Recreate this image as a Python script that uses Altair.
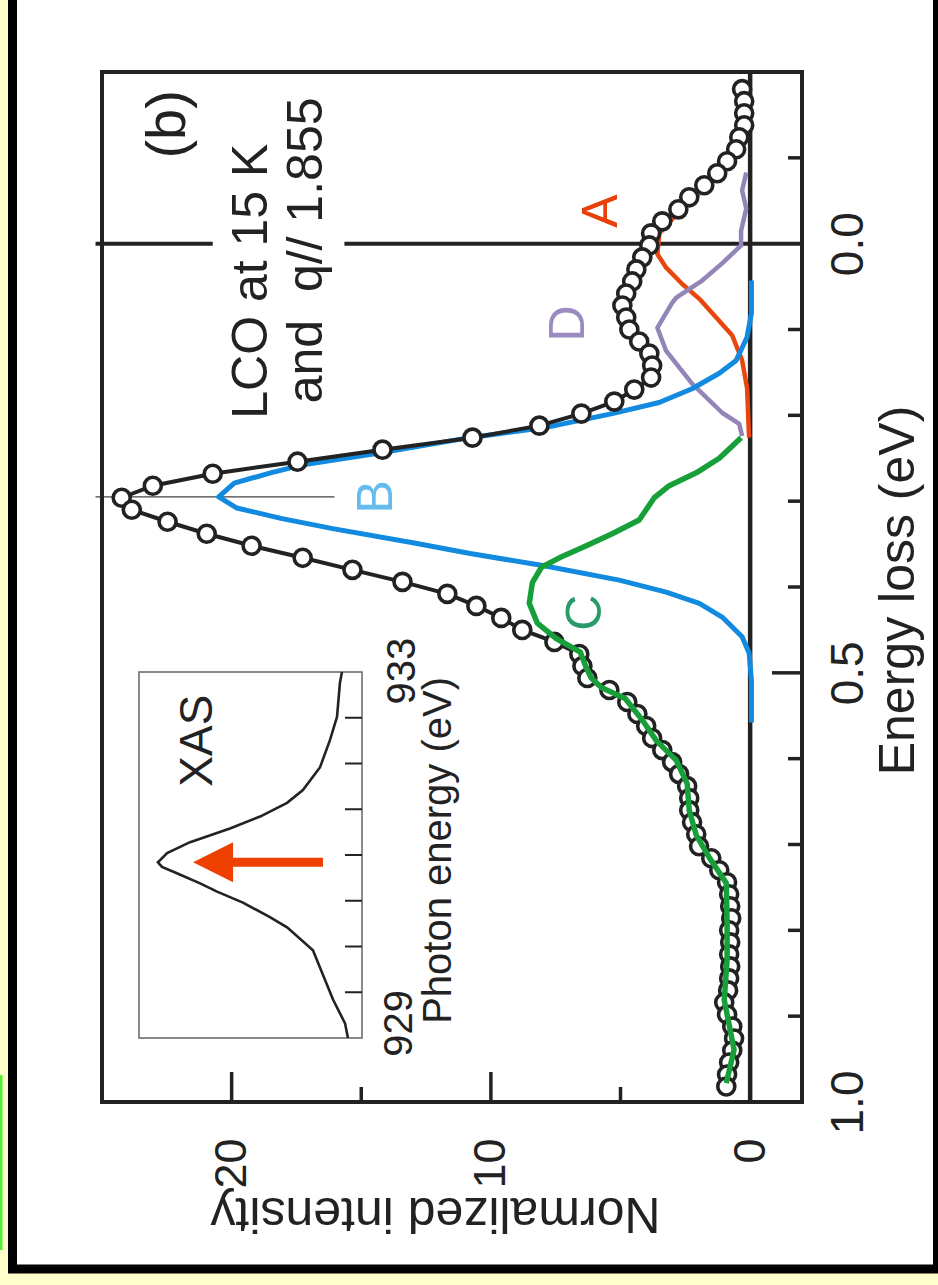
import altair as alt
import pandas as pd

FONT = "Liberation Sans"
INK = "#222222"

# ---- measured RIXS spectrum: energy loss (eV) vs normalized intensity ----
loss = [-0.180, -0.166, -0.152, -0.138, -0.124, -0.110, -0.096, -0.082, -0.068, -0.054,
        -0.040, -0.026, -0.012, 0.002, 0.016, 0.030, 0.044, 0.058, 0.072, 0.086,
        0.100, 0.114, 0.128, 0.142, 0.156, 0.170, 0.184, 0.198, 0.212, 0.226,
        0.240, 0.254, 0.268, 0.282, 0.296, 0.310, 0.324, 0.338, 0.352, 0.366,
        0.380, 0.394, 0.408, 0.422, 0.436, 0.450, 0.464, 0.478, 0.492, 0.506,
        0.520, 0.534, 0.548, 0.562, 0.576, 0.590, 0.604, 0.618, 0.632, 0.646,
        0.660, 0.674, 0.688, 0.702, 0.716, 0.730, 0.744, 0.758, 0.772, 0.786,
        0.800, 0.814, 0.828, 0.842, 0.856, 0.870, 0.884, 0.898, 0.912, 0.926,
        0.940, 0.954, 0.968, 0.982]
counts = [0.31, 0.23, 0.23, 0.23, 0.42, 0.54, 0.89, 1.27, 1.77, 2.35,
          2.77, 3.39, 3.82, 3.89, 4.16, 4.39, 4.55, 4.78, 4.93, 4.78,
          4.66, 4.28, 3.89, 3.78, 3.82, 4.47, 5.24, 6.51, 8.13, 10.71,
          14.18, 17.46, 20.73, 23.04, 24.24, 23.85, 22.47, 20.96, 19.23, 17.26,
          15.34, 13.41, 11.68, 10.56, 9.60, 8.79, 7.55, 6.59, 6.47, 6.28,
          5.43, 4.74, 4.35, 4.01, 3.78, 3.39, 3.01, 2.74, 2.43, 2.35,
          2.35, 2.24, 2.08, 1.97, 1.50, 1.19, 0.89, 0.81, 0.77, 0.73,
          0.81, 0.77, 0.81, 0.77, 0.81, 0.85, 1.00, 0.89, 0.69, 0.62,
          0.69, 0.81, 0.89, 0.92]

# ---- fitted components ----
a_loss = [-0.058, -0.029, -0.012, 0.012, 0.028, 0.047, 0.064, 0.086, 0.107, 0.136, 0.168, 0.226]
a_int = [1.97, 3.00, 3.50, 3.58, 3.24, 2.62, 1.97, 1.31, 0.69, 0.31, 0.12, 0.04]

d_loss = [-0.083, -0.062, -0.041, -0.015, 0.002, 0.023, 0.043, 0.063, 0.069, 0.098,
          0.125, 0.163, 0.197, 0.210, 0.224]
d_int = [0.15, 0.31, 0.15, 0.35, 0.35, 1.08, 1.85, 2.85, 3.01, 3.58,
         3.24, 2.24, 1.08, 0.42, 0.31]

b_loss = [0.043, 0.081, 0.109, 0.136, 0.151, 0.169, 0.185, 0.198, 0.214, 0.226,
          0.244, 0.258, 0.267, 0.279, 0.295, 0.308, 0.320, 0.332, 0.349, 0.361,
          0.375, 0.392, 0.406, 0.419, 0.435, 0.458, 0.477, 0.509, 0.558]
b_int = [-0.05, -0.05, 0.12, 0.54, 1.19, 2.24, 3.51, 5.32, 7.86, 10.83,
         14.3, 17.3, 18.5, 19.9, 20.5, 19.8, 18.1, 16.1, 12.9, 10.8,
         8.0, 5.05, 3.24, 1.96, 1.08, 0.31, 0.04, -0.05, -0.05]

c_loss = [0.226, 0.250, 0.267, 0.282, 0.296, 0.322, 0.338, 0.352, 0.366, 0.377,
          0.395, 0.419, 0.442, 0.460, 0.476, 0.494, 0.506, 0.517, 0.530, 0.555,
          0.579, 0.602, 0.629, 0.660, 0.689, 0.715, 0.745, 0.792, 0.835, 0.881,
          0.939, 0.978]
c_int = [0.35, 1.19, 2.08, 3.12, 3.70, 4.28, 5.32, 6.32, 7.36, 8.05,
         8.40, 8.52, 8.21, 7.48, 6.55, 6.32, 6.13, 5.74, 4.82, 4.16,
         3.62, 2.85, 2.43, 2.35, 2.08, 1.58, 0.92, 0.89, 0.89, 1.00,
         0.62, 0.92]

# ---- XAS inset: photon energy (eV) vs absorption (arb. units) ----
xas_energy = [929.0, 929.16, 929.42, 929.96, 930.21, 930.32, 930.48, 930.60, 930.69, 930.80,
              930.87, 930.92, 931.02, 931.14, 931.29, 931.42, 931.57, 931.71, 931.96, 932.26,
              932.51, 932.88, 933.0]
xas_signal = [0.063, 0.076, 0.130, 0.220, 0.336, 0.413, 0.534, 0.650, 0.726, 0.830,
              0.897, 0.915, 0.874, 0.771, 0.592, 0.457, 0.336, 0.265, 0.188, 0.143,
              0.112, 0.099, 0.090]
xas_ticks = [929.5, 930.0, 930.5, 931.0, 931.5, 932.0, 932.5]
xas_excitation = 930.92

# axis tick positions
loss_minor = [-0.1, 0.1, 0.2, 0.3, 0.4, 0.6, 0.7, 0.8, 0.9]
loss_major = [0.5]
int_major = [0, 10, 20]
int_minor = [5, 15]

W, H = 700, 1030

x_axis = alt.Axis(
    values=int_major, title="Normalized intensity", orient="bottom",
    domain=False, ticks=False, tickSize=0, grid=False,
    labelAngle=270, labelAlign="right", labelBaseline="middle", labelPadding=36,
    labelFontSize=45, labelFont=FONT, labelColor=INK, labelFlush=False, labelOverlap=False,
    titleFont=FONT, titleFontSize=50, titleFontWeight="normal", titleColor=INK,
    titleAngle=180, titleAlign="center", titleBaseline="alphabetic",
    titleX=333, titleY=95, zindex=1)
y_axis = alt.Axis(
    values=[0.0, 0.5, 1.0], format=".1f", title="Energy loss (eV)", orient="right",
    domain=False, ticks=False, tickSize=0, grid=False,
    labelAngle=270, labelAlign="center", labelBaseline="alphabetic", labelPadding=60,
    labelFontSize=46, labelFont=FONT, labelColor=INK, labelFlush=False, labelOverlap=False,
    titleFont=FONT, titleFontSize=50, titleFontWeight="normal", titleColor=INK,
    titleAngle=270, titleAlign="center", titleBaseline="alphabetic",
    titleX=111, titleY=518, zindex=1)

X = alt.X("intensity:Q", scale=alt.Scale(domain=[-2, 25], reverse=True, nice=False, zero=False), axis=x_axis)
X2 = alt.X2("intensity2:Q")
Y = alt.Y("loss:Q", scale=alt.Scale(domain=[-0.2, 1.0], reverse=True, nice=False, zero=False), axis=y_axis)

one = pd.DataFrame({"k": [0]})

# page panel: white sheet with black edge on a pale yellow ground
panel = alt.Chart(one).mark_rect(fill="white", stroke="black", strokeWidth=9).encode(
    x=alt.value(-89.5), x2=alt.value(835.5), y=alt.value(-82), y2=alt.value(1197))
edge = alt.Chart(one).mark_rule(color="#55ee33", strokeWidth=3).encode(
    x=alt.value(-101), y=alt.value(1003), y2=alt.value(1178))

zero_int = alt.Chart(pd.DataFrame({"intensity": [0.0]})).mark_rule(color=INK, strokeWidth=4.5).encode(
    x=X, y=alt.value(0), y2=alt.value(H))
zero_loss = alt.Chart(pd.DataFrame({"intensity": [25.25, 15.65], "intensity2": [20.73, -2.0],
                                     "loss": [0.0, 0.0]})).mark_rule(color=INK, strokeWidth=4).encode(
    x=X, x2=X2, y=Y)
b_marker = alt.Chart(pd.DataFrame({"intensity": [25.25], "intensity2": [16.03], "loss": [0.295]})).mark_rule(
    color="#444444", strokeWidth=1.3).encode(x=X, x2=X2, y=Y)

ticks_r_minor = alt.Chart(pd.DataFrame({"loss": loss_minor})).mark_rule(color=INK, strokeWidth=3.5).encode(
    y=Y, x=alt.value(W), x2=alt.value(W - 14))
ticks_r_major = alt.Chart(pd.DataFrame({"loss": loss_major})).mark_rule(color=INK, strokeWidth=3.5).encode(
    y=Y, x=alt.value(W), x2=alt.value(W - 30))
ticks_b_major = alt.Chart(pd.DataFrame({"intensity": int_major})).mark_rule(color=INK, strokeWidth=3.5).encode(
    x=X, y=alt.value(H), y2=alt.value(H - 30))
ticks_b_minor = alt.Chart(pd.DataFrame({"intensity": int_minor})).mark_rule(color=INK, strokeWidth=3.5).encode(
    x=X, y=alt.value(H), y2=alt.value(H - 15))

frame = alt.Chart(one).mark_rect(fillOpacity=0, stroke=INK, strokeWidth=4).encode(
    x=alt.value(0), x2=alt.value(W), y=alt.value(0), y2=alt.value(H))


def component(ls, vals, color, width):
    df = pd.DataFrame({"loss": ls, "intensity": vals})
    return alt.Chart(df).mark_line(color=color, strokeWidth=width, strokeJoin="round").encode(
        x=X, y=Y, order="loss:Q")


comp_a = component(a_loss, a_int, "#e8460e", 4.5)
comp_d = component(d_loss, d_int, "#9485b8", 4.5)
comp_b = component(b_loss, b_int, "#118ae0", 5)
comp_c = component(c_loss, c_int, "#17a03a", 5.5)

spec = pd.DataFrame({"loss": loss, "intensity": counts})
data_line = alt.Chart(spec).mark_line(color=INK, strokeWidth=4).encode(x=X, y=Y, order="loss:Q")
data_pts = alt.Chart(spec).mark_point(shape="circle", fill="white", stroke=INK, strokeWidth=3.6,
                                      size=290, opacity=1, fillOpacity=1).encode(x=X, y=Y)


def label(rows, size, align="center"):
    df = pd.DataFrame(rows, columns=["text", "intensity", "loss", "color"])
    return alt.Chart(df).mark_text(angle=270, align=align, baseline="alphabetic",
                                   font=FONT, fontSize=size).encode(
        x=X, y=Y, text="text:N", color=alt.Color("color:N", scale=None))


lab_b = label([("(b)", 21.81, -0.139, INK)], 56)
lab_title = label([("LCO at 15 K", 18.65, 0.204, INK),
                   ("and\u00a0 q// 1.855", 16.53, 0.186, INK)], 50, align="left")
lab_comp = label([("A", 5.13, -0.038, "#e8400a"),
                  ("B", 13.83, 0.295, "#66bbee"),
                  ("C", 5.74, 0.430, "#2a9a6a"),
                  ("D", 6.40, 0.093, "#9a8cc0")], 50)

main = alt.layer(panel, edge, zero_int, zero_loss, b_marker,
                 ticks_r_minor, ticks_r_major, ticks_b_major, ticks_b_minor, frame,
                 comp_a, comp_d, comp_b, data_line, data_pts, comp_c,
                 lab_b, lab_title, lab_comp)

# ---- inset ----
IX = alt.X("xas:Q", scale=alt.Scale(domain=[0, 1], range=[260, 37], nice=False, zero=False), axis=None)
IX2 = alt.X2("xas2:Q")
IY = alt.Y("photon:Q", scale=alt.Scale(domain=[929, 933], range=[966, 600], nice=False, zero=False), axis=None)
IY2 = alt.Y2("photon2:Q")

inset_box = alt.Chart(pd.DataFrame({"xas": [0.0], "xas2": [1.0], "photon": [929.0], "photon2": [933.0]})).mark_rect(
    fillOpacity=0, stroke="#666666", strokeWidth=1.5).encode(x=IX, x2=IX2, y=IY, y2=IY2)
inset_ticks = alt.Chart(pd.DataFrame({"photon": xas_ticks})).mark_rule(color=INK, strokeWidth=2).encode(
    y=IY, x=alt.value(260), x2=alt.value(243))
inset_curve = alt.Chart(pd.DataFrame({"photon": xas_energy, "xas": xas_signal})).mark_line(
    color=INK, strokeWidth=2.6).encode(x=IX, y=IY, order="photon:Q")
arrow_shaft = alt.Chart(pd.DataFrame({"xas": [0.175], "xas2": [0.60], "photon": [xas_excitation]})).mark_rule(
    color="#ee4000", strokeWidth=9).encode(x=IX, x2=IX2, y=IY)
arrow_head = alt.Chart(pd.DataFrame({"xas": [0.668], "photon": [xas_excitation]})).mark_point(
    shape="M-1,0L1,-1L1,1Z", filled=True, color="#ee4000", size=1600, opacity=1).encode(x=IX, y=IY)


def inset_label(rows, size):
    df = pd.DataFrame(rows, columns=["text", "xas", "photon"])
    return alt.Chart(df).mark_text(angle=270, align="center", baseline="alphabetic",
                                   font=FONT, fontSize=size, color=INK).encode(x=IX, y=IY, text="text:N")


inset_xas = inset_label([("XAS", 0.673, 932.25)], 46)
inset_txt = inset_label([("Photon energy (eV)", -0.40, 931.05),
                         ("929", -0.224, 929.16),
                         ("933", -0.238, 933.01)], 40)

inset = alt.layer(inset_box, inset_ticks, inset_curve, arrow_shaft, arrow_head, inset_xas, inset_txt)

chart = alt.layer(main, inset).resolve_scale(x="independent", y="independent").properties(
    width=W, height=H, background="#ffffcc",
    padding={"left": 102, "top": 72, "right": 136, "bottom": 183},
    autosize=alt.AutoSizeParams(type="none"),
).configure_view(stroke=None)

chart.save("out.html", embed_options={"renderer": "svg", "actions": False})
